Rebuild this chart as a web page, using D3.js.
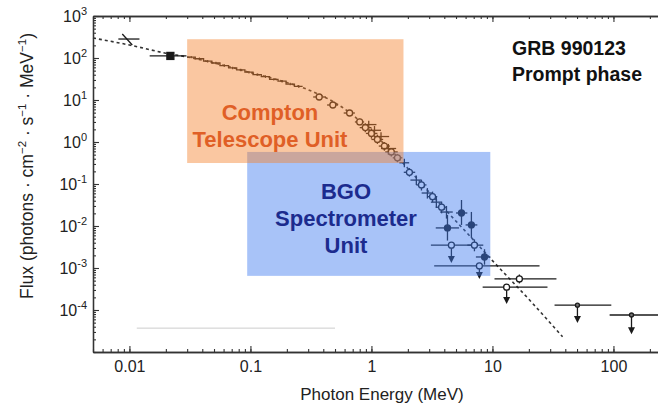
<!DOCTYPE html>
<html>
<head>
<meta charset="utf-8">
<script src="https://cdn.jsdelivr.net/npm/d3@7"></script>
<style>
  body { margin: 0; background: #fff; }
  text { font-family: "Liberation Sans", Arial, Helvetica, sans-serif; }
</style>
</head>
<body>
<svg id="chart" width="658" height="409"></svg>
<script>
// low energy spectrum, drawn as a staircase (bin edges in MeV, flux per bin)
const stepEdges = [0.030, 0.035, 0.041, 0.048, 0.056, 0.066, 0.077, 0.090, 0.105, 0.123, 0.144, 0.169, 0.197, 0.231, 0.27];
const stepFlux  = [105, 96, 84, 76, 66, 58, 52, 46, 40, 36, 31, 28, 24, 21];

// fitted model (dashed)
const modelE = [0.005, 0.01, 0.02, 0.03, 0.05, 0.1, 0.2, 0.3, 0.5, 0.7, 1, 1.5, 2, 3, 5, 7, 10, 20, 38];
const modelF = [299, 204, 130, 106, 76, 45, 26, 17.5, 8.6, 4.4, 1.7, 0.58, 0.235, 0.064, 0.013, 0.0046, 0.0015, 1.8e-4, 2.3e-5];

// points: E, Elo, Ehi, F, Flo, Fhi, marker, arrow end (upper limits)
const points = [
  [0.0096, 0.0081, 0.0121, 283, null, null, 'slash', null],
  [0.0218, 0.0147, 0.0296, 112, null, null, 'square', null],
  [0.37, 0.33, 0.42, 11.8, 10.6, 13.1, 'o', null],
  [0.48, 0.43, 0.53, 7.6, 6.7, 8.6, 'o', null],
  [0.66, 0.59, 0.73, 4.9, 4.2, 5.7, 'o', null],
  [0.80, 0.73, 0.87, 3.0, 2.5, 3.6, 'o', null],
  [0.89, 0.80, 1.00, 2.2, 1.7, 2.8, 'o', null],
  [0.95, 0.85, 1.10, 2.6, 2.1, 3.2, 'c', null],
  [1.00, 0.90, 1.12, 1.6, 1.2, 2.1, 'o', null],
  [1.06, 0.95, 1.20, 1.9, 1.5, 2.4, 'c', null],
  [1.12, 1.00, 1.25, 1.15, 0.9, 1.5, 'o', null],
  [1.20, 1.05, 1.40, 1.35, 1.0, 1.7, 'c', null],
  [1.28, 1.15, 1.42, 0.80, 0.62, 1.0, 'o', null],
  [1.38, 1.20, 1.60, 0.70, 0.5, 0.9, 'c', null],
  [1.46, 1.30, 1.65, 0.58, 0.45, 0.72, 'o', null],
  [1.64, 1.50, 1.80, 0.42, 0.33, 0.52, 'o', null],
  [1.87, 1.70, 2.05, 0.32, 0.25, 0.40, 'c', null],
  [2.06, 1.85, 2.30, 0.19, 0.15, 0.24, 'o', null],
  [2.35, 2.10, 2.60, 0.124, 0.095, 0.16, 'c', null],
  [2.59, 2.35, 2.85, 0.095, 0.07, 0.125, 'o', null],
  [2.90, 2.60, 3.20, 0.061, 0.045, 0.08, 'c', null],
  [3.20, 2.90, 3.50, 0.050, 0.037, 0.066, 'o', null],
  [3.44, 3.10, 3.80, 0.037, 0.027, 0.05, 'c', null],
  [3.80, 3.40, 4.20, 0.028, 0.02, 0.038, 'o', null],
  [4.17, 3.70, 4.70, 0.0215, 0.015, 0.03, 'c', null],
  [5.55, 5.00, 6.20, 0.0204, 0.0106, 0.0416, 'f', null],
  [4.25, 3.40, 5.30, 0.0090, 0.0045, 0.0183, 'f', null],
  [6.70, 6.00, 7.50, 0.0106, 0.0052, 0.0216, 'f', null],
  [4.58, 3.10, 6.80, 0.0035, null, null, 'o', 0.00139],
  [7.10, 6.20, 8.40, 0.0035, 0.0025, 0.0048, 'o', null],
  [8.60, 7.30, 9.60, 0.00183, 0.0012, 0.0028, 'f', null],
  [7.80, 3.30, 24.5, 0.00112, null, null, 'o', 0.00058],
  [16.7, 10.4, 33.8, 5.5e-4, 4.3e-4, 7e-4, 'o', null],
  [13.1, 8.30, 28.5, 3.5e-4, null, null, 'o', 1.47e-4],
  [50.4, 32.6, 96.0, 1.3e-4, null, null, 'd', 5.2e-5],
  [141, 93.0, 265, 7.6e-5, null, null, 'd', 2.8e-5]
];

// instrument bands: E range (MeV), flux range
const bands = [
  { name: 'bgo', e0: 0.094, e1: 9.6, f0: 6.5e-4, f1: 0.58, fill: '#3d7af0' },
  { name: 'comptel', e0: 0.03, e1: 1.84, f0: 0.316, f1: 280, fill: '#f5822f' }
];
const faintLine = { e0: 0.0115, e1: 0.5, f: 3.7e-5 };

const xMajor = [0.01, 0.1, 1, 10, 100];
const yDecades = [-4, -3, -2, -1, 0, 1, 2, 3];

const svg = d3.select('#chart');
const x = d3.scaleLog().domain([0.005, 250]).range([93, 661.6]);
const y = d3.scaleLog().domain([1e-5, 1e3]).range([352, 16]);

function minors(lo, hi) {
  const out = [];
  for (let d = Math.floor(Math.log10(lo)); d <= Math.ceil(Math.log10(hi)); d++)
    for (let k = 1; k <= 9; k++) {
      const v = k * Math.pow(10, d);
      if (v >= lo && v <= hi) out.push(v);
    }
  return out;
}
const xMinor = minors(0.005, 250);
const yMinor = minors(1e-5, 1e3);

const axisColor = '#333';
function styleAxis(g) {
  g.attr('color', axisColor);
  g.selectAll('line').attr('stroke-width', 1.1);
  g.select('.domain').attr('stroke-width', 1.3);
}

// bottom
svg.append('g').attr('transform', 'translate(0,352)')
  .call(d3.axisBottom(x).tickValues(xMinor).tickSize(-3).tickSizeOuter(0).tickFormat(''))
  .call(styleAxis);
svg.append('g').attr('transform', 'translate(0,352)')
  .call(d3.axisBottom(x).tickValues(xMajor).tickSize(-6).tickSizeOuter(0).tickPadding(9).tickFormat(d => String(d)))
  .call(styleAxis)
  .call(g => g.selectAll('text').attr('font-size', 16).attr('fill', '#222'));
// top
svg.append('g').attr('transform', 'translate(0,16)')
  .call(d3.axisTop(x).tickValues(xMinor).tickSize(-3).tickSizeOuter(0).tickFormat(''))
  .call(styleAxis);
svg.append('g').attr('transform', 'translate(0,16)')
  .call(d3.axisTop(x).tickValues(xMajor).tickSize(-6).tickSizeOuter(0).tickFormat(''))
  .call(styleAxis);
// left
svg.append('g').attr('transform', 'translate(93,0)')
  .call(d3.axisLeft(y).tickValues(yMinor).tickSize(-3).tickSizeOuter(0).tickFormat(''))
  .call(styleAxis);
svg.append('g').attr('transform', 'translate(93,0)')
  .call(d3.axisLeft(y).tickValues(yDecades.map(d => Math.pow(10, d))).tickSize(-6).tickSizeOuter(0).tickFormat(''))
  .call(styleAxis);

const ylab = svg.append('g').selectAll('text').data(yDecades).join('text')
  .attr('x', 87).attr('y', d => y(Math.pow(10, d)) + 6)
  .attr('text-anchor', 'end').attr('fill', '#222');
ylab.append('tspan').attr('font-size', 16).text('10');
ylab.append('tspan').attr('font-size', 11).attr('dy', -7).text(d => String(d));

// axis titles
svg.append('text').attr('x', 382).attr('y', 400).attr('text-anchor', 'middle')
  .attr('font-size', 17).attr('fill', '#222').text('Photon Energy (MeV)');

const yt = svg.append('text').attr('transform', 'translate(33,166) rotate(-90)')
  .attr('text-anchor', 'middle').attr('font-size', 17.5).attr('fill', '#222');
const ytParts = [['Flux  (photons · cm', 0], ['−2', 1], [' · s', 0], ['−1', 1], [' · MeV', 0], ['−1', 1], [')', 0]];
let up = false;
ytParts.forEach(([t, sup]) => {
  const s = yt.append('tspan').text(t);
  if (sup) { s.attr('font-size', 11.5).attr('dy', -7); up = true; }
  else if (up) { s.attr('dy', 7); up = false; }
});

// faint scan line
svg.append('line')
  .attr('x1', x(faintLine.e0)).attr('x2', x(faintLine.e1))
  .attr('y1', y(faintLine.f)).attr('y2', y(faintLine.f))
  .attr('stroke', '#ccc').attr('stroke-width', 1);

// model
svg.append('path')
  .datum(modelE.map((e, i) => [e, modelF[i]]))
  .attr('fill', 'none').attr('stroke', '#333').attr('stroke-width', 1.6)
  .attr('stroke-dasharray', '3,3')
  .attr('d', d3.line().x(d => x(d[0])).y(d => y(d[1])).curve(d3.curveMonotoneX));

const ink = '#1a1a1a';
// staircase
const stairs = stepFlux.map((f, i) => [stepEdges[i], f]);
stairs.push([stepEdges[stepEdges.length - 1], stepFlux[stepFlux.length - 1]]);
svg.append('path').datum(stairs)
  .attr('fill', 'none').attr('stroke', ink).attr('stroke-width', 1.3)
  .attr('d', d3.line().x(d => x(d[0])).y(d => y(d[1])).curve(d3.curveStepAfter));
svg.append('g').selectAll('line').data(stepFlux).join('line')
  .attr('x1', (f, i) => x(Math.sqrt(stepEdges[i] * stepEdges[i + 1])))
  .attr('x2', (f, i) => x(Math.sqrt(stepEdges[i] * stepEdges[i + 1])))
  .attr('y1', f => y(f * 1.07)).attr('y2', f => y(f / 1.07))
  .attr('stroke', ink).attr('stroke-width', 1.1);

// points
const pg = svg.append('g').attr('stroke', ink).attr('stroke-width', 1.3);
points.forEach(([e, elo, ehi, f, flo, fhi, mk, arr]) => {
  const cx = x(e), cy = y(f);
  pg.append('line').attr('x1', x(elo)).attr('x2', x(ehi)).attr('y1', cy).attr('y2', cy);
  if (flo != null) pg.append('line').attr('x1', cx).attr('x2', cx).attr('y1', y(fhi)).attr('y2', y(flo));
  if (arr != null) {
    const ay = y(arr);
    pg.append('line').attr('x1', cx).attr('x2', cx).attr('y1', cy).attr('y2', ay - 4);
    pg.append('path').attr('fill', ink).attr('stroke', 'none')
      .attr('d', `M${cx - 3.5},${ay - 6}L${cx + 3.5},${ay - 6}L${cx},${ay + 1}Z`);
  }
  if (mk === 'o') pg.append('circle').attr('cx', cx).attr('cy', cy).attr('r', 3).attr('fill', '#fff');
  else if (mk === 'f') pg.append('circle').attr('cx', cx).attr('cy', cy).attr('r', 3).attr('fill', ink);
  else if (mk === 'd') pg.append('circle').attr('cx', cx).attr('cy', cy).attr('r', 2).attr('fill', '#777');
  else if (mk === 'square') pg.append('rect').attr('x', cx - 3.5).attr('y', cy - 3.5).attr('width', 7).attr('height', 7).attr('fill', ink);
  else if (mk === 'slash') pg.append('line').attr('x1', cx - 5).attr('y1', cy - 5).attr('x2', cx + 5).attr('y2', cy + 6);
});

// instrument bands
svg.append('g').selectAll('rect').data(bands).join('rect')
  .attr('x', d => x(d.e0)).attr('width', d => x(d.e1) - x(d.e0))
  .attr('y', d => y(d.f1)).attr('height', d => y(d.f0) - y(d.f1))
  .attr('fill', d => d.fill).attr('fill-opacity', 0.45);

// labels
function block(lines, cx, y0, color, size) {
  svg.append('g').selectAll('text').data(lines).join('text')
    .attr('x', cx).attr('y', (d, i) => y0 + i * 27)
    .attr('text-anchor', 'middle').attr('font-weight', 'bold')
    .attr('font-size', size).attr('fill', color).text(d => d);
}
block(['Compton', 'Telescope Unit'], 270, 120, '#e05f26', 22);
block(['BGO', 'Spectrometer', 'Unit'], 346, 199, '#1c2b8e', 22);
block(['GRB 990123'], 569, 55, '#111', 19.5);
block(['Prompt phase'], 577, 81, '#111', 19.5);
</script>
</body>
</html>
